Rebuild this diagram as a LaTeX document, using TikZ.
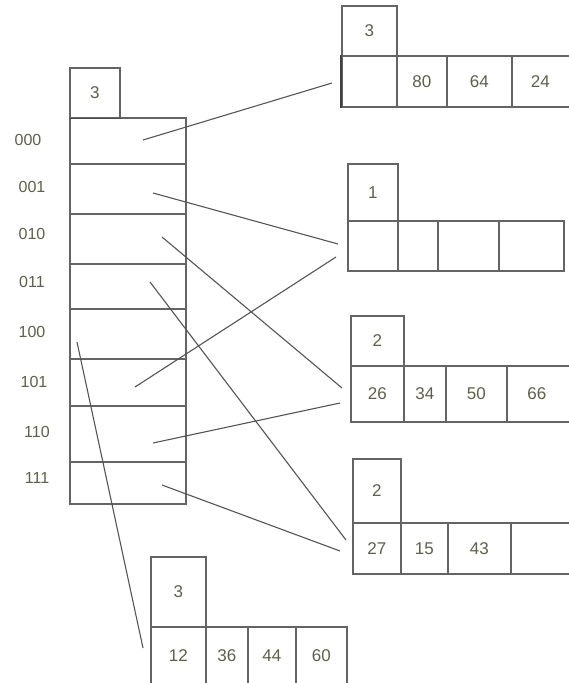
\documentclass[tikz,border=0pt]{standalone}
\usepackage{fontspec}
\setmainfont{Liberation Sans}
\definecolor{boxc}{RGB}{100,100,100}
\definecolor{txtc}{RGB}{95,95,75}
\definecolor{linec}{RGB}{85,85,85}
\tikzset{
  cell/.style={draw=boxc, line width=1.6pt, rectangle, inner sep=0pt, anchor=north west,
    text=txtc, font=\fontsize{17}{17}\selectfont},
  lbl/.style={inner sep=0pt, text=txtc, font=\fontsize{16}{16}\selectfont},
  conn/.style={draw=linec, line width=1.1pt}
}
\newcommand\mycell[6]{\node[cell, minimum width={#4pt-#2pt}, minimum height={#5pt-#3pt}] (#1) at (#2,#3) {#6};}
\begin{document}
\begin{tikzpicture}[x=1pt,y=-1pt]
\clip (0,0) rectangle (569,683);
\fill[white] (0,0) rectangle (569,683);
% directory
\mycell{dh}{69}{67}{119}{117}{3}
\mycell{d0}{69}{117}{185}{163}{}
\mycell{d1}{69}{163}{185}{213}{}
\mycell{d2}{69}{213}{185}{263}{}
\mycell{d3}{69}{263}{185}{308}{}
\mycell{d4}{69}{308}{185}{358}{}
\mycell{d5}{69}{358}{185}{405}{}
\mycell{d6}{69}{405}{185}{461}{}
\mycell{d7}{69}{461}{185}{503}{}
\draw[draw=black!70, line width=1.6pt] (dh.south west) -- (dh.south east);
% labels
\node[lbl] (l0) at (28,140) {000};
\node[lbl] (l1) at (32,187) {001};
\node[lbl] (l2) at (32,234) {010};
\node[lbl] (l3) at (32,282) {011};
\node[lbl] (l4) at (32,332) {100};
\node[lbl] (l5) at (34,382) {101};
\node[lbl] (l6) at (37,432) {110};
\node[lbl] (l7) at (37,478) {111};
% bucket A (depth 3)
\mycell{ah}{341}{5}{396}{55}{3}
\mycell{a1}{341}{55}{396}{106}{}
\mycell{a2}{396}{55}{446}{106}{80}
\mycell{a3}{446}{55}{511}{106}{64}
\mycell{a4}{511}{55}{578}{106}{\hspace*{-10pt}24}
\draw[draw=black!75, line width=1.9pt] (a1.north west) -- (a1.south west);
% bucket B (depth 1)
\mycell{bh}{347}{163}{397}{220}{1}
\mycell{b1}{347}{220}{397}{270}{}
\mycell{b2}{397}{220}{437}{270}{}
\mycell{b3}{437}{220}{498}{270}{}
\mycell{b4}{498}{220}{563}{270}{}
% bucket C (depth 2)
\mycell{ch}{350}{315}{403}{365}{2}
\mycell{c1}{350}{365}{403}{421}{26}
\mycell{c2}{403}{365}{445}{421}{34}
\mycell{c3}{445}{365}{506}{421}{50}
\mycell{c4}{506}{365}{578}{421}{\hspace*{-12pt}66}
% bucket D (depth 2)
\mycell{eh}{352}{458}{400}{522}{2}
\mycell{e1}{352}{522}{400}{573}{27}
\mycell{e2}{400}{522}{447}{573}{15}
\mycell{e3}{447}{522}{510}{573}{43}
\mycell{e4}{510}{522}{578}{573}{}
% bucket E (depth 3)
\mycell{fh}{150}{556}{205}{626}{3}
\mycell{f1}{150}{626}{205}{686}{\raisebox{3pt}{12}}
\mycell{f2}{205}{626}{247}{686}{\raisebox{3pt}{36}}
\mycell{f3}{247}{626}{295}{686}{\raisebox{3pt}{44}}
\mycell{f4}{295}{626}{346}{686}{\raisebox{3pt}{60}}
% connector ends
\coordinate (s0) at (143,140); \coordinate (t0) at (332,83);
\coordinate (s1) at (153,193); \coordinate (t1) at (338,244);
\coordinate (s2) at (162,237); \coordinate (t2) at (342,388);
\coordinate (s3) at (150,282); \coordinate (t3) at (346,540);
\coordinate (s4) at (77,342);  \coordinate (t4) at (143,648);
\coordinate (s5) at (135,387); \coordinate (t5) at (336,257);
\coordinate (s6) at (153,443); \coordinate (t6) at (340,403);
\coordinate (s7) at (162,485); \coordinate (t7) at (340,551);
\foreach \i in {0,...,7} {\draw[conn] (s\i) -- (t\i);}
\end{tikzpicture}
\end{document}
